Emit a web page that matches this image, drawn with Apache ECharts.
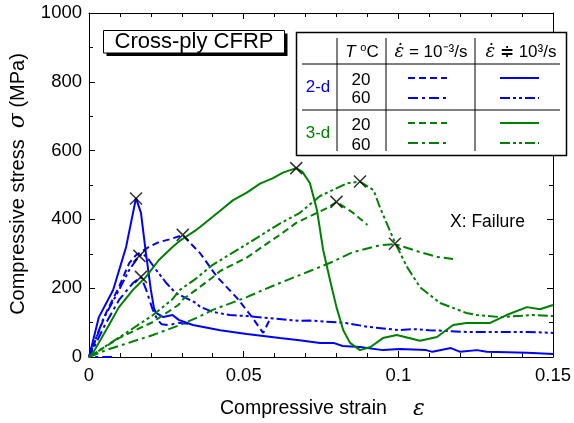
<!DOCTYPE html>
<html><head><meta charset="utf-8">
<script src="https://cdn.jsdelivr.net/npm/echarts@6/dist/echarts.min.js"></script>
<style>html,body{margin:0;padding:0;background:#fff}#c{width:574px;height:423px}</style>
</head><body><div id="c"></div>
<script>
// ---- data (strain, stress MPa) ----
const xTickLabels = ['0', '0.05', '0.1', '0.15'];
const yTickLabels = ['0', '200', '400', '600', '800', '1000'];

const blue2d20Dyn = [[0,0],[0.0032,116],[0.0078,195],[0.012,320],[0.0152,462],[0.0168,419],[0.0184,302],[0.020,195],[0.021,142],[0.0217,128],[0.024,116],[0.027,122],[0.029,108],[0.0336,93],[0.0424,78],[0.051,67],[0.0617,55],[0.068,49],[0.0747,41],[0.079,41],[0.082,32],[0.0876,29],[0.095,20],[0.1005,23],[0.109,20],[0.111,15],[0.117,26],[0.12,15],[0.1254,20],[0.1286,15],[0.1416,12],[0.15,9]];
const blue2d60Dyn = [[0,0],[0.0045,108],[0.0097,195],[0.013,253],[0.0162,294],[0.0175,300],[0.0194,282],[0.0217,253],[0.025,215],[0.028,186],[0.0294,180],[0.0346,157],[0.0359,146],[0.040,131],[0.0456,122],[0.051,119],[0.0585,113],[0.068,105],[0.0714,106],[0.083,99],[0.09,88],[0.1005,78],[0.105,81],[0.11,78],[0.122,73],[0.1416,73],[0.15,70]];
const blue2d20Qs = [[0,0],[0.0055,128],[0.0097,204],[0.013,273],[0.0152,296],[0.0194,320],[0.0226,334],[0.026,342],[0.0303,354],[0.0359,302],[0.0414,233],[0.0478,172],[0.0527,116],[0.0563,70],[0.0585,110]];
const blue2d60Qs = [[0.0075,0],[0,0],[0.0055,99],[0.0097,166],[0.0142,215],[0.0168,233],[0.0185,195],[0.0205,140],[0.022,110],[0.0235,95],[0.026,92],[0.0285,100],[0.032,97]];

const green3d20Dyn = [[0,0],[0.0013,12],[0.0055,78],[0.0097,145],[0.0142,195],[0.0184,233],[0.0226,282],[0.027,320],[0.0294,338],[0.0346,369],[0.0359,378],[0.0424,425],[0.0466,456],[0.051,478],[0.0553,504],[0.0595,520],[0.0627,536],[0.067,549],[0.069,538],[0.0714,506],[0.0737,427],[0.0757,311],[0.078,220],[0.080,145],[0.0822,78],[0.0844,41],[0.0876,20],[0.091,29],[0.095,55],[0.0995,64],[0.107,47],[0.1125,58],[0.1177,93],[0.122,99],[0.1297,99],[0.135,122],[0.1416,145],[0.1458,139],[0.15,151]];
const green3d60Dyn = [[0,0],[0.012,70],[0.0207,122],[0.027,168],[0.0294,195],[0.0346,228],[0.040,268],[0.051,328],[0.0617,388],[0.068,418],[0.0747,468],[0.0834,505],[0.0876,510],[0.092,485],[0.094,436],[0.099,331],[0.1028,262],[0.107,203],[0.1135,157],[0.122,128],[0.1254,122],[0.133,116],[0.1435,122],[0.15,119]];
const green3d20Qs = [[0,0],[0.0097,55],[0.0207,102],[0.029,152],[0.0304,168],[0.0346,195],[0.040,232],[0.0424,250],[0.051,289],[0.0563,322],[0.0617,355],[0.067,390],[0.077,433],[0.080,451],[0.0854,419],[0.090,384]];
const green3d60Qs = [[0,0],[0.0055,20],[0.0207,64],[0.0294,93],[0.0346,113],[0.040,137],[0.051,174],[0.0563,195],[0.0617,215],[0.0714,250],[0.078,274],[0.0854,305],[0.094,325],[0.099,328],[0.107,305],[0.1125,291],[0.1177,285]];

const failurePoints = [[0.0152,461],[0.0163,294],[0.0168,233],[0.0303,355],[0.067,549],[0.080,451],[0.0876,510],[0.0989,329]];

// ---- styles ----
const BLUE = '#0000ff', GREEN = '#008000';
const DASH = [7,4], DASHDOT = [10,4,3,4], DASHDOTDOT = [10,3,3,3,3,3];
const FONT = 'Liberation Sans, Arial, sans-serif';

function lineSeries(name, data, color, type) {
  return { name, type: 'line', data, showSymbol: false, symbol: 'none', smooth: false,
    lineStyle: { color, width: 2, type }, z: 3, animation: false };
}

const chart = echarts.init(document.getElementById('c'));

const legendRows = [
  { y: 78, color: BLUE, qs: DASH, dyn: 'solid' },
  { y: 98, color: BLUE, qs: DASHDOT, dyn: DASHDOTDOT },
  { y: 123, color: GREEN, qs: DASH, dyn: 'solid' },
  { y: 143, color: GREEN, qs: DASHDOT, dyn: DASHDOTDOT }
];
const graphics = [];
// Title box
graphics.push({ type: 'rect', shape: { x: 106.5, y: 33.5, width: 181, height: 22.5 }, style: { fill: '#000' }, z: 100 });
graphics.push({ type: 'rect', shape: { x: 103.5, y: 30.5, width: 181, height: 22.5 }, style: { fill: '#fff', stroke: '#000', lineWidth: 1 }, z: 101 });
graphics.push({ type: 'text', x: 194, y: 42, style: { text: 'Cross-ply CFRP', font: '22px ' + FONT, fill: '#000', textAlign: 'center', textVerticalAlign: 'middle' }, z: 102 });
// Legend table
graphics.push({ type: 'rect', shape: { x: 296.5, y: 32.5, width: 270, height: 123 }, style: { fill: '#fff', stroke: '#000', lineWidth: 1.5 }, z: 100 });
[[302,64,560,64],[302,110,560,110],[337,38,337,151],[386,38,386,151],[475,38,475,151]].forEach(l => {
  graphics.push({ type: 'line', shape: { x1: l[0], y1: l[1], x2: l[2], y2: l[3] }, style: { stroke: '#000', lineWidth: 1 }, z: 101 });
});
graphics.push({ type: 'text', x: 362, y: 52, style: { text: '{t|T} {s|o}C', rich: { t: { font: 'italic 17px ' + FONT, fill: '#000' }, s: { font: '11px ' + FONT, fill: '#000', padding: [0,0,8,0] } }, font: '17px ' + FONT, fill: '#000', textAlign: 'center', textVerticalAlign: 'middle' }, z: 102 });
graphics.push({ type: 'text', x: 431, y: 52, style: { text: '{e|ε̇} = 10⁻³/s', rich: { e: { font: 'italic 18px DejaVu Serif, serif', fill: '#000' } }, font: '17px ' + FONT, fill: '#000', textAlign: 'center', textVerticalAlign: 'middle' }, z: 102 });
graphics.push({ type: 'text', x: 521, y: 52, style: { text: '{e|ε̇} ≑ 10³/s', rich: { e: { font: 'italic 18px DejaVu Serif, serif', fill: '#000' } }, font: '17px ' + FONT, fill: '#000', textAlign: 'center', textVerticalAlign: 'middle' }, z: 102 });
graphics.push({ type: 'text', x: 318, y: 87, style: { text: '2-d', font: '17px ' + FONT, fill: BLUE, textAlign: 'center', textVerticalAlign: 'middle' }, z: 102 });
graphics.push({ type: 'text', x: 318, y: 133, style: { text: '3-d', font: '17px ' + FONT, fill: GREEN, textAlign: 'center', textVerticalAlign: 'middle' }, z: 102 });
[['20',80],['60',98],['20',125],['60',145]].forEach(t => {
  graphics.push({ type: 'text', x: 361, y: t[1], style: { text: t[0], font: '17px ' + FONT, fill: '#000', textAlign: 'center', textVerticalAlign: 'middle' }, z: 102 });
});
legendRows.forEach(r => {
  graphics.push({ type: 'line', shape: { x1: 408, y1: r.y, x2: 447, y2: r.y }, style: { stroke: r.color, lineWidth: 2, lineDash: r.qs }, z: 102 });
  graphics.push({ type: 'line', shape: { x1: 500, y1: r.y, x2: 539, y2: r.y }, style: { stroke: r.color, lineWidth: 2, lineDash: r.dyn === 'solid' ? null : r.dyn }, z: 102 });
});
// annotation
graphics.push({ type: 'text', x: 450, y: 222, style: { text: 'X: Failure', font: '17.5px ' + FONT, fill: '#000', textVerticalAlign: 'middle' }, z: 102 });
// axis titles
graphics.push({ type: 'text', x: 220, y: 409, style: { text: 'Compressive strain', font: '19.5px ' + FONT, fill: '#000', textVerticalAlign: 'middle' }, z: 102 });
graphics.push({ type: 'text', x: 419, y: 409, style: { text: 'ε', font: 'italic 22px DejaVu Serif, serif', fill: '#000', textAlign: 'center', textVerticalAlign: 'middle' }, z: 102 });
graphics.push({ type: 'text', x: 18, y: 184, rotation: Math.PI / 2, style: { text: 'Compressive stress  {s|σ} (MPa)', rich: { s: { font: 'italic 22px DejaVu Serif, serif', fill: '#000' } }, font: '20px ' + FONT, fill: '#000', textAlign: 'center', textVerticalAlign: 'middle' }, z: 102 });

const axisCommon = {
  axisLine: { show: true, onZero: false, lineStyle: { color: '#000', width: 1 } },
  axisTick: { show: true, inside: true, length: 6, lineStyle: { color: '#000' } },
  minorTick: { show: true, length: 4, lineStyle: { color: '#000' } },
  splitLine: { show: false }
};

chart.setOption({
  animation: false,
  backgroundColor: '#fff',
  grid: { left: 89, right: 21, top: 13, bottom: 66 },
  xAxis: [
    Object.assign({ type: 'value', min: 0, max: 0.15, interval: 0.05, position: 'bottom',
      axisLabel: { color: '#000', fontSize: 18.5, fontFamily: FONT, margin: 9,
        formatter: v => xTickLabels[Math.round(v / 0.05)] } }, axisCommon,
      { minorTick: { show: true, splitNumber: 5, length: 4, lineStyle: { color: '#000' } } }),
    Object.assign({ type: 'value', min: 0, max: 0.15, interval: 0.05, position: 'top', axisLabel: { show: false } }, axisCommon,
      { minorTick: { show: true, splitNumber: 5, length: 4, lineStyle: { color: '#000' } } })
  ],
  yAxis: [
    Object.assign({ type: 'value', min: 0, max: 1000, interval: 200, position: 'left',
      axisLabel: { color: '#000', fontSize: 18.5, fontFamily: FONT, margin: 7,
        formatter: v => yTickLabels[Math.round(v / 200)] } }, axisCommon,
      { minorTick: { show: true, splitNumber: 2, length: 4, lineStyle: { color: '#000' } } }),
    Object.assign({ type: 'value', min: 0, max: 1000, interval: 200, position: 'right', axisLabel: { show: false } }, axisCommon,
      { minorTick: { show: true, splitNumber: 2, length: 4, lineStyle: { color: '#000' } } })
  ],
  series: [
    lineSeries('2-d 20 dyn', blue2d20Dyn, BLUE, 'solid'),
    lineSeries('2-d 60 dyn', blue2d60Dyn, BLUE, DASHDOTDOT),
    lineSeries('2-d 20 qs', blue2d20Qs, BLUE, DASH),
    lineSeries('2-d 60 qs', blue2d60Qs, BLUE, DASHDOT),
    lineSeries('3-d 20 dyn', green3d20Dyn, GREEN, 'solid'),
    lineSeries('3-d 60 dyn', green3d60Dyn, GREEN, DASHDOTDOT),
    lineSeries('3-d 20 qs', green3d20Qs, GREEN, DASH),
    lineSeries('3-d 60 qs', green3d60Qs, GREEN, DASHDOT),
    { name: 'Failure', type: 'scatter', data: failurePoints, symbol: 'path://M0,0L10,10M10,0L0,10', symbolSize: 12,
      itemStyle: { color: 'rgba(0,0,0,0)', borderColor: '#000', borderWidth: 1.5 }, z: 5, animation: false }
  ],
  graphic: { elements: graphics }
});
</script></body></html>
